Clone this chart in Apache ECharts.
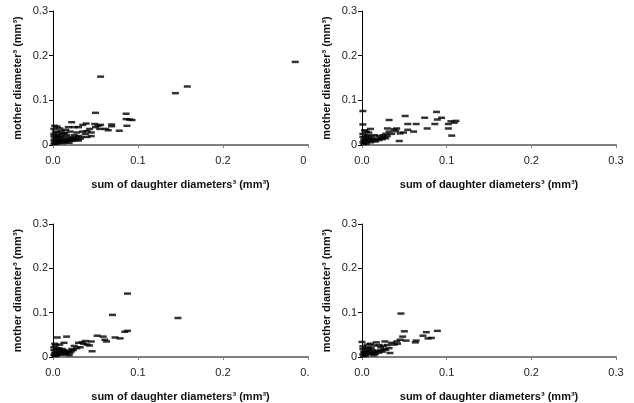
<!DOCTYPE html>
<html>
<head>
<meta charset="utf-8">
<script src="https://cdn.jsdelivr.net/npm/echarts@6/dist/echarts.min.js"></script>
<style>html,body{margin:0;padding:0;background:#fff}#c{width:634px;height:403px}</style>
</head>
<body>
<div id="c"></div>
<script>
// Axis tick values
const xTicks = [0.0, 0.1, 0.2, 0.3];
const yTicks = [0, 0.1, 0.2, 0.3];
const xName = 'sum of daughter diameters³ (mm³)';
const yName = 'mother diameter³ (mm³)';

// Panel A (top-left): [sum of daughter d^3, mother d^3]
const panelA = [
  [0.285,0.186],[0.158,0.131],[0.144,0.116],[0.056,0.153],[0.050,0.072],[0.086,0.070],
  [0.086,0.058],[0.093,0.056],[0.090,0.057],[0.087,0.043],[0.078,0.032],[0.069,0.046],
  [0.069,0.042],[0.065,0.033],[0.062,0.036],[0.056,0.045],[0.053,0.043],[0.049,0.047],
  [0.055,0.036],[0.039,0.048],[0.035,0.045],[0.022,0.051],[0.025,0.040],[0.018,0.040],
  [0.030,0.040],[0.043,0.036],[0.040,0.031],[0.045,0.028],[0.035,0.030],[0.038,0.025],
  [0.028,0.028],[0.015,0.034],[0.010,0.032],[0.005,0.041],[0.002,0.043],[0.001,0.036],
  [0.003,0.030],[0.008,0.037],[0.012,0.026],[0.020,0.030],[0.025,0.022],[0.030,0.020],
  [0.033,0.018],[0.045,0.020],[0.040,0.018],[0.050,0.040],
  [0.001,0.025],[0.001,0.020],[0.002,0.015],[0.001,0.010],[0.002,0.005],[0.001,0.002],
  [0.004,0.022],[0.005,0.018],[0.005,0.012],[0.006,0.006],[0.004,0.003],[0.008,0.020],
  [0.009,0.015],[0.010,0.010],[0.008,0.006],[0.012,0.018],[0.013,0.012],[0.014,0.008],
  [0.011,0.004],[0.016,0.022],[0.017,0.014],[0.018,0.010],[0.015,0.006],[0.020,0.018],
  [0.021,0.013],[0.022,0.009],[0.019,0.005],[0.024,0.015],[0.026,0.011],[0.028,0.013],
  [0.030,0.010],[0.032,0.014],[0.027,0.018],[0.003,0.008],[0.007,0.010],[0.010,0.024],
  [0.014,0.027],[0.006,0.028]
];

// Panel B (top-right)
const panelB = [
  [0.001,0.076],[0.001,0.046],[0.088,0.074],[0.094,0.061],[0.089,0.057],[0.074,0.061],
  [0.051,0.065],[0.032,0.056],[0.064,0.047],[0.054,0.047],[0.077,0.037],[0.086,0.047],
  [0.105,0.053],[0.111,0.054],[0.102,0.047],[0.109,0.050],[0.102,0.037],[0.106,0.021],
  [0.054,0.034],[0.061,0.030],[0.049,0.028],[0.041,0.037],[0.044,0.009],[0.010,0.036],
  [0.030,0.037],[0.038,0.035],[0.040,0.031],[0.032,0.030],[0.035,0.025],[0.045,0.026],
  [0.028,0.025],[0.025,0.022],[0.020,0.020],[0.015,0.022],[0.005,0.030],[0.008,0.028],
  [0.003,0.033],
  [0.001,0.025],[0.001,0.018],[0.002,0.012],[0.001,0.006],[0.002,0.002],[0.004,0.020],
  [0.005,0.014],[0.006,0.008],[0.005,0.003],[0.008,0.016],[0.009,0.011],[0.010,0.006],
  [0.012,0.014],[0.013,0.009],[0.015,0.012],[0.016,0.008],[0.018,0.014],[0.020,0.011],
  [0.022,0.016],[0.024,0.013],[0.026,0.018],[0.028,0.015],[0.030,0.020],[0.007,0.022],
  [0.011,0.019],[0.003,0.009]
];

// Panel C (bottom-left)
const panelC = [
  [0.0876,0.143],[0.070,0.095],[0.147,0.088],[0.0876,0.059],[0.0845,0.057],[0.079,0.042],
  [0.073,0.044],[0.061,0.039],[0.063,0.035],[0.052,0.048],[0.059,0.046],[0.045,0.035],
  [0.046,0.013],[0.034,0.033],[0.043,0.026],[0.005,0.044],[0.016,0.046],[0.013,0.032],
  [0.038,0.036],[0.030,0.032],[0.036,0.030],[0.040,0.028],[0.025,0.025],[0.028,0.020],
  [0.032,0.022],[0.022,0.018],[0.002,0.030],[0.003,0.026],[0.008,0.028],
  [0.001,0.022],[0.001,0.016],[0.002,0.010],[0.001,0.005],[0.002,0.002],[0.004,0.018],
  [0.005,0.012],[0.006,0.006],[0.004,0.003],[0.008,0.015],[0.009,0.010],[0.010,0.005],
  [0.012,0.013],[0.013,0.008],[0.015,0.011],[0.016,0.006],[0.018,0.012],[0.020,0.009],
  [0.022,0.013],[0.019,0.004],[0.024,0.016],[0.007,0.020],[0.011,0.018],[0.014,0.015],
  [0.003,0.008]
];

// Panel D (bottom-right)
const panelD = [
  [0.046,0.098],[0.089,0.059],[0.076,0.056],[0.082,0.043],[0.078,0.042],[0.072,0.048],
  [0.064,0.037],[0.063,0.033],[0.050,0.058],[0.048,0.046],[0.052,0.037],[0.045,0.039],
  [0.041,0.035],[0.033,0.009],[0.000,0.034],[0.017,0.033],[0.027,0.035],[0.035,0.032],
  [0.038,0.028],[0.042,0.030],[0.030,0.027],[0.025,0.025],[0.022,0.022],[0.020,0.027],
  [0.010,0.030],[0.006,0.028],[0.014,0.026],[0.032,0.020],
  [0.001,0.024],[0.001,0.018],[0.002,0.012],[0.001,0.006],[0.002,0.002],[0.004,0.020],
  [0.005,0.014],[0.006,0.008],[0.004,0.003],[0.008,0.017],[0.009,0.011],[0.010,0.006],
  [0.012,0.015],[0.013,0.009],[0.015,0.012],[0.016,0.007],[0.018,0.014],[0.020,0.010],
  [0.022,0.015],[0.024,0.012],[0.026,0.018],[0.028,0.016],[0.007,0.022],[0.011,0.020],
  [0.003,0.009],[0.014,0.004]
];

const panels = [panelA, panelB, panelC, panelD];
const grids = [
  {left: 53, top: 11, width: 255, height: 134},
  {left: 362, top: 11, width: 254, height: 134},
  {left: 53, top: 224, width: 255, height: 134},
  {left: 362, top: 224, width: 254, height: 134}
];
const FONT = '"Liberation Sans", Arial, sans-serif';

const xAxes = grids.map((g, i) => ({
  gridIndex: i, type: 'value', min: xTicks[0], max: xTicks[xTicks.length - 1], interval: 0.1,
  name: xName, nameLocation: 'middle', nameGap: 34,
  nameTextStyle: {fontFamily: FONT, fontSize: 11, fontWeight: 'bold', color: '#111'},
  axisLine: {show: true, lineStyle: {color: '#808080', width: 2}},
  axisTick: {show: true, length: 3, lineStyle: {color: '#808080'}},
  axisLabel: {fontFamily: FONT, fontSize: 11, color: '#222', margin: 10,
    formatter: v => v.toFixed(1)},
  splitLine: {show: false}
}));
const yAxes = grids.map((g, i) => ({
  gridIndex: i, type: 'value', min: yTicks[0], max: yTicks[yTicks.length - 1], interval: 0.1,
  name: yName, nameLocation: 'middle', nameGap: 30, nameRotate: 90,
  nameTextStyle: {fontFamily: FONT, fontSize: 11, fontWeight: 'bold', color: '#111'},
  axisLine: {show: true, lineStyle: {color: '#000', width: 1}},
  axisTick: {show: true, length: 4, lineStyle: {color: '#000'}},
  axisLabel: {fontFamily: FONT, fontSize: 11, color: '#222', margin: 5,
    formatter: v => (v === 0 ? '0' : v.toFixed(1))},
  splitLine: {show: false}
}));
const series = panels.map((p, i) => ({
  type: 'scatter', xAxisIndex: i, yAxisIndex: i, data: p,
  symbol: 'rect', symbolSize: [7, 2.5], itemStyle: {color: '#000'}, z: 3
}));

const chart = echarts.init(document.getElementById('c'), null, {renderer: 'canvas'});
chart.setOption({
  animation: false,
  backgroundColor: '#fff',
  grid: grids,
  xAxis: xAxes,
  yAxis: yAxes,
  series: series,
  graphic: [
    {type: 'rect', z: 100, shape: {x: 306, y: 154, width: 24, height: 20}, style: {fill: '#fff'}},
    {type: 'rect', z: 100, shape: {x: 309, y: 367, width: 22, height: 20}, style: {fill: '#fff'}}
  ]
});
</script>
</body>
</html>
